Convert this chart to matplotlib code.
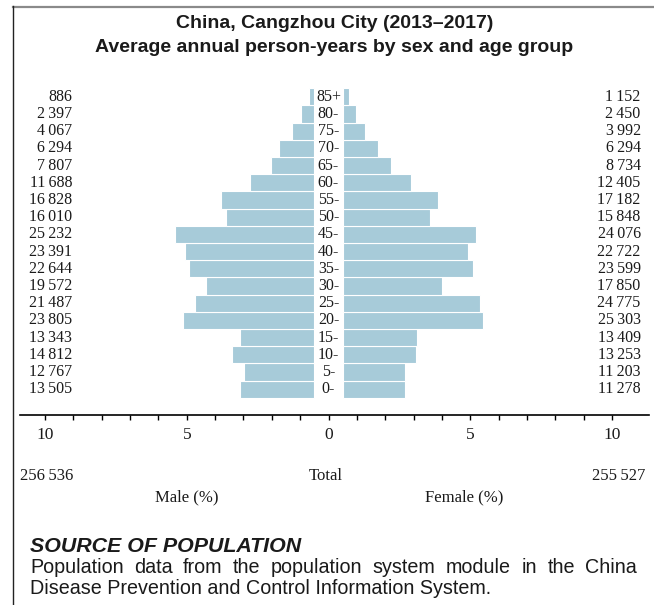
import matplotlib
matplotlib.use("Agg")
import matplotlib.pyplot as plt
from matplotlib.lines import Line2D

W, H = 654, 605
BLUE = "#a7cbd9"
INK = "#1a1a1a"
SERIF = "Liberation Serif"
SANS = "Liberation Sans"

ages = ["0-", "5-", "10-", "15-", "20-", "25-", "30-", "35-", "40-", "45-",
        "50-", "55-", "60-", "65-", "70-", "75-", "80-", "85+"]
male = [13505, 12767, 14812, 13343, 23805, 21487, 19572, 22644, 23391, 25232,
        16010, 16828, 11688, 7807, 6294, 4067, 2397, 886]
female = [11278, 11203, 13253, 13409, 25303, 24775, 17850, 23599, 22722, 24076,
          15848, 17182, 12405, 8734, 6294, 3992, 2450, 1152]
male_total, female_total = 256536, 255527
tick_vals = [-10, -5, 0, 5, 10]

def fmt(n):  # thin-space thousands separator
    return f"{n:,}".replace(",", "\u2009")

grand = male_total + female_total
mp = [v / grand * 100 for v in male]
fp = [v / grand * 100 for v in female]
gap = 0.5  # half of the centre column holding the age labels

fig = plt.figure(figsize=(W / 100, H / 100), dpi=100)

def px(x, y):  # pixel (from top-left) -> figure fraction
    return x / W, 1 - y / H

# axes: x -10 at 45px, +10 at 612px ; spine from 20px to 649px
ppu = (612 - 45) / 20
x0 = 328.5
ax_l, ax_r = 20, 649
ax_t, ax_b = 88.3, 415
ax = fig.add_axes([ax_l / W, 1 - ax_b / H, (ax_r - ax_l) / W, (ax_b - ax_t) / H])
ax.set_xlim((ax_l - x0) / ppu, (ax_r - x0) / ppu)
ax.set_ylim(-1.5, 17.5)

y = list(range(len(ages)))
ax.barh(y, [-v for v in mp], left=-gap, height=1, color=BLUE, edgecolor="white", linewidth=0.8)
ax.barh(y, fp, left=gap, height=1, color=BLUE, edgecolor="white", linewidth=0.8)

for i, a in enumerate(ages):
    ax.text(0, i, a, ha="center", va="center", fontsize=11.5, family=SERIF, color=INK)
    ax.text((72 - x0) / ppu, i, fmt(male[i]), ha="right", va="center",
            fontsize=11.5, family=SERIF, color=INK)
    ax.text((640.7 - x0) / ppu, i, fmt(female[i]), ha="right", va="center",
            fontsize=11.5, family=SERIF, color=INK)

for s in ["top", "right", "left"]:
    ax.spines[s].set_visible(False)
ax.spines["bottom"].set_linewidth(1.2)
ax.set_yticks([])
ax.set_xticks(tick_vals)
ax.set_xticklabels([str(abs(t)) for t in tick_vals], fontsize=12.5, family=SERIF, color=INK)
ax.set_xticks(range(-10, 11), minor=True)
ax.tick_params(axis="x", which="both", direction="out", length=3.5, width=1, pad=5)

# bottom captions
cap = dict(va="center", fontsize=12, family=SERIF, color=INK)
fig.text(*px(20, 476), fmt(male_total), ha="left", **cap)
fig.text(*px(326, 476), "Total", ha="center", **cap)
fig.text(*px(645, 476), fmt(female_total), ha="right", **cap)
fig.text(*px(187, 497), "Male (%)", ha="center", **cap)
fig.text(*px(464, 497), "Female (%)", ha="center", **cap)

# title
fig.text(*px(335, 23.5), "China, Cangzhou City (2013\u20132017)", ha="center", va="center",
         fontsize=14, fontweight="bold", family=SANS, color=INK)
fig.text(*px(334, 48), "Average annual person-years by sex and age group", ha="center", va="center",
         fontsize=14, fontweight="bold", family=SANS, color=INK)

# source note
fig.text(*px(30, 552), "SOURCE OF POPULATION", ha="left", va="baseline", fontsize=15.4,
         fontweight="bold", fontstyle="italic", family=SANS, color=INK)

def justify(line, xa, xb, yy, **kw):
    words = line.split()
    r = fig.canvas.get_renderer()
    ts = [fig.text(0, 0, w, **kw) for w in words]
    ws = [t.get_window_extent(r).width for t in ts]
    g = (xb - xa - sum(ws)) / (len(words) - 1)
    x = xa
    for t, w in zip(ts, ws):
        t.set_position(px(x, yy))
        x += w + g

body = dict(ha="left", va="baseline", fontsize=14.2, family=SANS, color=INK)
justify("Population data from the population system module in the China", 30, 637, 573, **body)
fig.text(*px(30, 594), "Disease Prevention and Control Information System.", **body)

# frame lines
fig.add_artist(Line2D([13 / W, 1], [1 - 6.5 / H] * 2, transform=fig.transFigure, color="#8a8a8a", lw=1.6))
fig.add_artist(Line2D([13 / W] * 2, [0, 1 - 6 / H], transform=fig.transFigure, color="#222222", lw=1.0))

fig.savefig("out.png", dpi=100)
